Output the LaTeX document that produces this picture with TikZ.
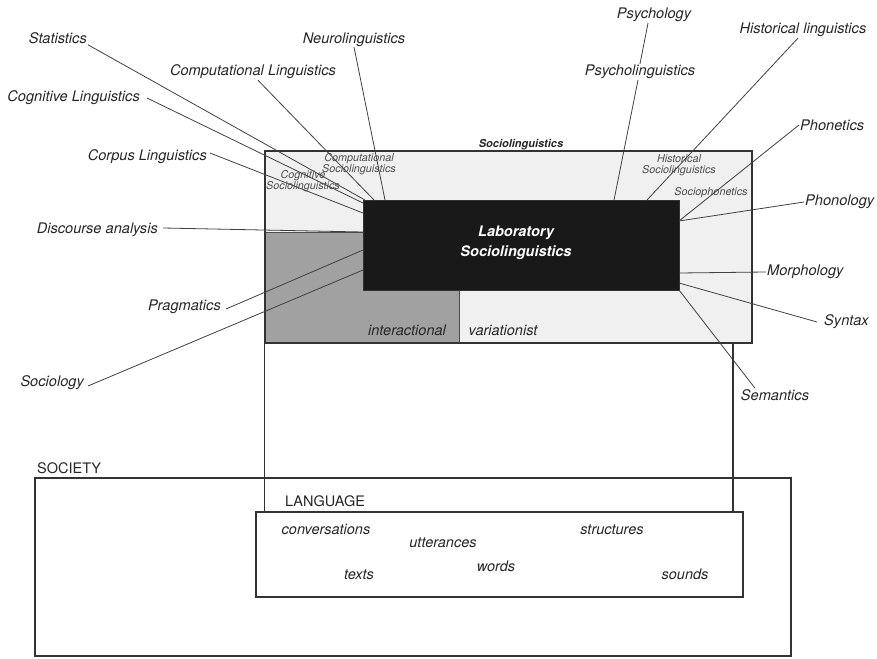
\documentclass[tikz,border=0pt]{standalone}
\usepackage{fontspec}
\setmainfont{TeX Gyre Heros}
\begin{document}
\begin{tikzpicture}[x=1pt,y=-1pt,
  lbl/.style={font=\fontsize{14.6}{16}\selectfont\itshape, text=black!85, inner sep=1pt},
  small/.style={font=\fontsize{10.8}{11.5}\selectfont\itshape, text=black!70, inner sep=0pt, align=center},
  word/.style={font=\fontsize{14.5}{16}\selectfont\itshape, text=black!85, inner sep=1pt},
  caps/.style={font=\fontsize{14.5}{16}\selectfont, text=black!85, inner sep=0pt, anchor=south west},
  conn/.style={draw=black!75, line width=0.8pt},
  frame/.style={draw=black!80, line width=1.1pt}]
\useasboundingbox (0,0) rectangle (877,658);
% Sociolinguistics box
\path[fill=black!6] (265,151) rectangle (752,343);
\path[fill=black!37] (265,232) rectangle (459,343);
\draw[black!70, line width=0.8pt] (265,232) -- (363,232);
\draw[black!70, line width=0.8pt] (459,290) -- (459,343);
\node[frame, fill=none, minimum width=487pt, minimum height=192pt, inner sep=0pt] (soc) at (508.5,247) {};
\node[font=\fontsize{11}{12}\selectfont\bfseries\itshape, text=black!85, inner sep=0pt] (soctitle) at (521,145) {Sociolinguistics};
% Lab box
\node[fill=black!90, draw=black!80, minimum width=316pt, minimum height=90pt, inner sep=0pt] (lab) at (521,245) {};
\node[text=white, align=center, inner sep=0pt, font=\fontsize{14.5}{19.5}\selectfont\bfseries\itshape] (labtxt) at (516,243) {Laboratory\\Sociolinguistics};
\node[word] (inter) at (407,330) {interactional};
\node[word] (vari) at (503,330) {variationist};
% small texts
\node[small] (compsoc) at (359,164) {Computational\\Sociolinguistics};
\node[small] (cogsoc) at (303,181) {Cognitive\\Sociolinguistics};
\node[small] (histsoc) at (679,165) {Historical\\Sociolinguistics};
\node[small] (phonsoc) at (711,193) {Sociophonetics};
% connecting coordinates on lab box
\coordinate (eStat) at (365,200);
\coordinate (eCog) at (363,203);
\coordinate (eComp) at (374,200);
\coordinate (eNeuro) at (385,200);
\coordinate (eCorp) at (363,213);
\coordinate (eDisc) at (363,232);
\coordinate (ePrag) at (363,250);
\coordinate (eSocio) at (363,270);
\coordinate (ePsy) at (614,200);
\coordinate (eHist) at (647,200);
\coordinate (ePhon) at (679,221);
\coordinate (ePhol) at (679,221);
\coordinate (eMorph) at (679,273);
\coordinate (eSyn) at (679,283);
\coordinate (eSem) at (679,290);
% labels left
\node[lbl, anchor=east] (stat) at (88,38) {Statistics};
\node[lbl] (neuro) at (354,40) {Neurolinguistics};
\node[lbl] (compl) at (253,72) {Computational Linguistics};
\node[lbl, anchor=east] (cogl) at (141,98) {Cognitive Linguistics};
\node[lbl, anchor=east] (corp) at (208,157) {Corpus Linguistics};
\node[lbl, anchor=east] (disc) at (159,230) {Discourse analysis};
\node[lbl, anchor=east] (prag) at (222,307) {Pragmatics};
\node[lbl, anchor=east] (sociol) at (85,383) {Sociology};
% labels right
\node[lbl] (psy) at (654,15) {Psychology};
\node[lbl] (psyl) at (640,72) {Psycholinguistics};
\node[lbl] (histl) at (803,30) {Historical linguistics};
\node[lbl, anchor=west] (phonet) at (799,125) {Phonetics};
\node[lbl, anchor=west] (phonol) at (804,202) {Phonology};
\node[lbl, anchor=west] (morph) at (766,272) {Morphology};
\node[lbl, anchor=west] (syn) at (823,322) {Syntax};
\node[lbl] (sem) at (775,395) {Semantics};
% connectors
\draw[conn] (stat.south east) -- (eStat);
\draw[conn] (neuro.south) ++(0,-1) -- (eNeuro);
\draw[conn] ([xshift=5pt]compl.south) -- (eComp);
\draw[conn] ([xshift=6pt]cogl.east) -- (eCog);
\draw[conn] ([xshift=2pt,yshift=4pt]corp.east) -- (eCorp);
\draw[conn] ([xshift=4pt,yshift=2pt]disc.east) -- (eDisc);
\draw[conn] ([xshift=4pt,yshift=-2pt]prag.east) -- (ePrag);
\draw[conn] ([xshift=3pt,yshift=-3pt]sociol.east) -- (eSocio);
\draw[conn] ([xshift=-6pt]psy.south) -- (psyl.north);
\draw[conn] ([xshift=-2pt]psyl.south) -- (ePsy);
\draw[conn] ([xshift=-5pt]histl.south) -- (eHist);
\draw[conn] (phonet.west) -- (ePhon);
\draw[conn] (phonol.west) -- (ePhol);
\draw[conn] (morph.west) -- (eMorph);
\draw[conn] ([xshift=-6pt]syn.west) -- (eSyn);
\draw[conn] ([xshift=-20pt]sem.north) -- (eSem);
% society and language
\node[frame, minimum width=756pt, minimum height=178pt, inner sep=0pt] (society) at (413,567) {};
\node[caps] (societylbl) at (37,474) {SOCIETY};
\node[frame, minimum width=487pt, minimum height=85pt, inner sep=0pt] (lang) at (499.5,554.5) {};
\node[caps] (langlbl) at (285,507) {LANGUAGE};
\draw[frame] (soc.south west) -- (soc.south west |- lang.north);
\draw[frame] (733,343) -- (733,512);
\node[word] (conv) at (326,529) {conversations};
\node[word] (utt) at (443,543) {utterances};
\node[word] (struct) at (612,530) {structures};
\node[word] (texts) at (359,575) {texts};
\node[word] (words) at (496,566) {words};
\node[word] (sounds) at (685,574) {sounds};
\end{tikzpicture}
\end{document}
